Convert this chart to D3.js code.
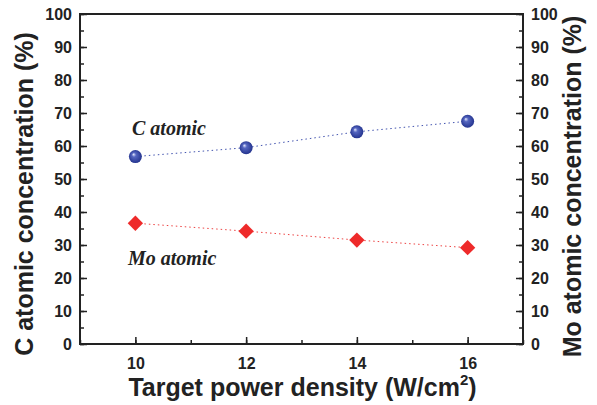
<!DOCTYPE html>
<html>
<head>
<meta charset="utf-8">
<script src="https://cdn.jsdelivr.net/npm/d3@7"></script>
<style>
  body { margin: 0; background: #fff; }
  svg text { font-family: "Liberation Sans", Arial, sans-serif; }
</style>
</head>
<body>
<svg></svg>
<script>
// data
var power = [10, 12, 14, 16];
var cAtomic = [56.8, 59.5, 64.3, 67.5];
var moAtomic = [36.6, 34.2, 31.5, 29.2];
var xTicks = [10, 12, 14, 16];
var yTicks = [0, 10, 20, 30, 40, 50, 60, 70, 80, 90, 100];

var margin = {top: 14, right: 74, bottom: 61, left: 80},
    width = 597 - margin.left - margin.right,
    height = 405 - margin.top - margin.bottom;

var root = d3.select("svg")
  .attr("width", 597)
  .attr("height", 405);

var defs = root.append("defs");
var grad = defs.append("radialGradient")
  .attr("id", "ball")
  .attr("cx", "50%").attr("cy", "50%").attr("r", "55%")
  .attr("fx", "35%").attr("fy", "32%");
grad.append("stop").attr("offset", "0%").attr("stop-color", "#e8ecff");
grad.append("stop").attr("offset", "30%").attr("stop-color", "#5566c0");
grad.append("stop").attr("offset", "100%").attr("stop-color", "#1f2f8a");

var svg = root.append("g")
  .attr("transform", "translate(" + margin.left + "," + margin.top + ")");

var x = d3.scaleLinear().domain([9, 17]).range([0, width]);
var y = d3.scaleLinear().domain([0, 100]).range([height, 0]);

// axes, ticks pointing inward
var minorX = d3.range(9, 17.01, 1);
var minorY = d3.range(0, 100.01, 5);

svg.append("g")
  .attr("transform", "translate(0," + height + ")")
  .call(d3.axisBottom(x).tickValues(minorX).tickSize(-4).tickFormat(""))
  .call(g => g.select(".domain").remove());
svg.append("g")
  .attr("class", "xaxis")
  .attr("transform", "translate(0," + height + ")")
  .call(d3.axisBottom(x).tickValues(xTicks).tickSize(-7).tickPadding(14).tickFormat(d3.format("d")))
  .call(g => g.select(".domain").remove());

svg.append("g")
  .call(d3.axisLeft(y).tickValues(minorY).tickSize(-4).tickFormat(""))
  .call(g => g.select(".domain").remove());
svg.append("g")
  .attr("class", "yaxis")
  .call(d3.axisLeft(y).tickValues(yTicks).tickSize(-7).tickPadding(8))
  .call(g => g.select(".domain").remove());

svg.append("g")
  .attr("transform", "translate(" + width + ",0)")
  .call(d3.axisRight(y).tickValues(minorY).tickSize(-4).tickFormat(""))
  .call(g => g.select(".domain").remove());
svg.append("g")
  .attr("class", "yaxis")
  .attr("transform", "translate(" + width + ",0)")
  .call(d3.axisRight(y).tickValues(yTicks).tickSize(-7).tickPadding(8))
  .call(g => g.select(".domain").remove());

svg.selectAll(".tick line").attr("stroke", "#222").attr("stroke-width", 1.5);
svg.selectAll(".tick text")
  .attr("fill", "#222")
  .style("font-size", "16px")
  .style("font-weight", "bold");

// frame
svg.append("rect")
  .attr("width", width).attr("height", height)
  .attr("fill", "none").attr("stroke", "#222").attr("stroke-width", 2);

// lines
var line = d3.line().x((d, i) => x(power[i])).y(d => y(d));

svg.append("path")
  .datum(cAtomic)
  .attr("d", line)
  .attr("fill", "none").attr("stroke", "#4455b0")
  .attr("stroke-width", 1).attr("stroke-dasharray", "1.5,3");
svg.append("path")
  .datum(moAtomic)
  .attr("d", line)
  .attr("fill", "none").attr("stroke", "#ee4444")
  .attr("stroke-width", 1).attr("stroke-dasharray", "1.5,3");

// markers
svg.selectAll(".ball")
  .data(cAtomic).enter()
  .append("circle")
  .attr("class", "ball")
  .attr("cx", (d, i) => x(power[i]))
  .attr("cy", d => y(d))
  .attr("r", 6.5)
  .attr("fill", "url(#ball)");

svg.selectAll(".dia")
  .data(moAtomic).enter()
  .append("path")
  .attr("class", "dia")
  .attr("transform", (d, i) => "translate(" + x(power[i]) + "," + y(d) + ")")
  .attr("d", d3.symbol().type(d3.symbolDiamond2).size(150))
  .attr("fill", "#ee2a2a");

// series labels
svg.append("text")
  .attr("x", 52).attr("y", 121)
  .style("font-family", "'Liberation Serif', 'Times New Roman', serif")
  .style("font-style", "italic").style("font-weight", "bold")
  .style("font-size", "20px").attr("fill", "#222")
  .text("C atomic");
svg.append("text")
  .attr("x", 48).attr("y", 251)
  .style("font-family", "'Liberation Serif', 'Times New Roman', serif")
  .style("font-style", "italic").style("font-weight", "bold")
  .style("font-size", "20px").attr("fill", "#222")
  .text("Mo atomic");

// axis titles
svg.append("text")
  .attr("x", (x(9) + x(17)) / 2 + 1).attr("y", height + 52)
  .attr("text-anchor", "middle")
  .style("font-size", "25px").style("font-weight", "bold").attr("fill", "#222")
  .html('Target power density (W/cm<tspan dy="-11" font-size="15px">2</tspan><tspan dy="11">)</tspan>');

svg.append("text")
  .attr("transform", "translate(" + (-47) + "," + (height / 2 + 15) + ") rotate(-90)")
  .attr("text-anchor", "middle")
  .style("font-size", "25px").style("font-weight", "bold").attr("fill", "#222")
  .text("C atomic concentration (%)");

svg.append("text")
  .attr("transform", "translate(" + (width + 58) + "," + (height / 2 + 7.5) + ") rotate(-90)")
  .attr("text-anchor", "middle")
  .style("font-size", "25px").style("font-weight", "bold").attr("fill", "#222")
  .text("Mo atomic concentration (%)");
</script>
</body>
</html>
